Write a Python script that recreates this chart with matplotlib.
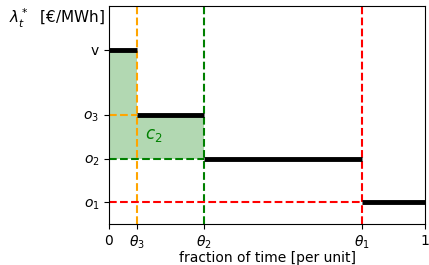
import matplotlib
matplotlib.use('Agg')
import matplotlib.pyplot as plt

# breakpoints (fraction of time) and price levels
theta = [0.0, 0.09, 0.30, 0.80, 1.0]
levels = [4.5, 3.0, 2.0, 1.0]
ytick_labels = ['$o_1$', '$o_2$', '$o_3$', 'v']
xtick_labels = ['0', r'$\theta_3$', r'$\theta_2$', r'$\theta_1$', '1']
guide_colors = ['orange', 'green', 'red']

fig = plt.figure(figsize=(4.29, 2.65), dpi=100)
ax = fig.add_axes([0.254, 0.155, 0.737, 0.822])
ax.set_xlim(0, 1)
ax.set_ylim(0.5, 5.5)

# shaded area c_2: under the step curve, above o_2, up to theta_2
ax.fill_between([theta[0], theta[1]], levels[2], levels[0], color='green', alpha=0.3, linewidth=0)
ax.fill_between([theta[1], theta[2]], levels[2], levels[1], color='green', alpha=0.3, linewidth=0)

# dashed guides for theta_3/o_3, theta_2/o_2, theta_1/o_1
for th, lev, col in zip(theta[1:4], levels[1:], guide_colors):
    ax.axvline(th, color=col, linestyle='--', linewidth=1.5)
    ax.plot([0, th], [lev, lev], color=col, linestyle='--', linewidth=1.5)

# step curve (price duration)
for i, lev in enumerate(levels):
    ax.plot([theta[i], theta[i + 1]], [lev, lev], color='black', linewidth=3.5, solid_capstyle='butt')

ax.text(0.115, 2.55, '$c_2$', color='green', fontsize=12, va='center')

ax.set_xticks(theta)
ax.set_xticklabels(xtick_labels)
for tick, col in zip(ax.xaxis.get_major_ticks()[1:4], guide_colors):
    tick.tick1line.set_color(col)
ax.set_yticks(sorted(levels))
ax.set_yticklabels(ytick_labels)
ax.set_xlabel('fraction of time [per unit]', labelpad=0)
ax.text(-0.315, 0.92, r'$\lambda_t^*$  [€/MWh]', transform=ax.transAxes, fontsize=11)

plt.savefig('out.png', dpi=100)
